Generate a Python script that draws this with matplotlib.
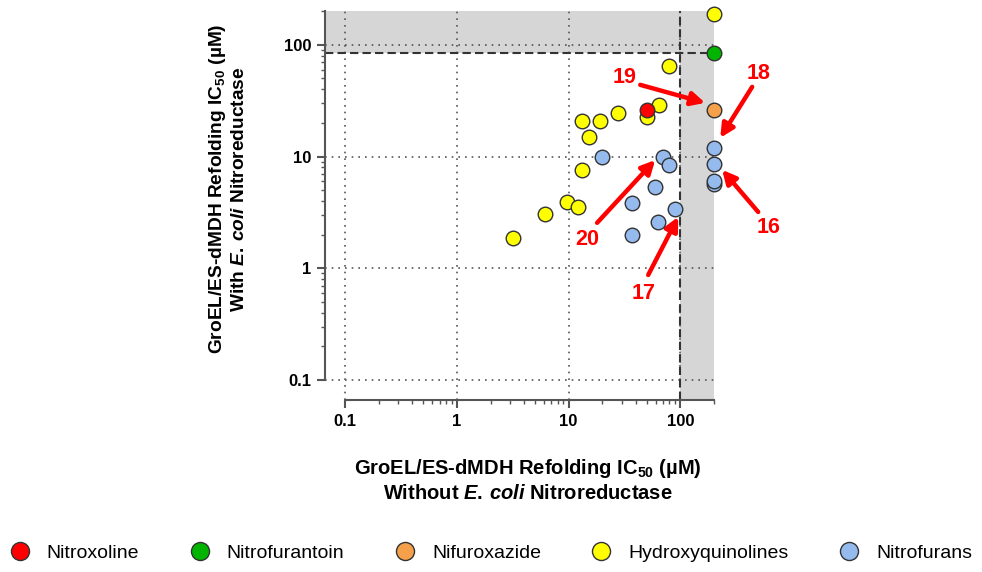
import matplotlib
matplotlib.use("Agg")
import matplotlib.pyplot as plt
from matplotlib.lines import Line2D
from matplotlib.ticker import FixedLocator, NullFormatter

plt.rcParams['font.family'] = ['Liberation Sans', 'DejaVu Sans']
plt.rcParams['mathtext.fontset'] = 'custom'
plt.rcParams['mathtext.rm'] = 'Liberation Sans:bold'
plt.rcParams['mathtext.it'] = 'Liberation Sans:italic:bold'
plt.rcParams['mathtext.bf'] = 'Liberation Sans:bold'

# data (IC50 in uM): without NTR (x) / with NTR (y)
hq_x = [200, 78.5, 50, 65, 13.2, 19.2, 27.5, 15.1, 13.2, 9.7, 12.1, 6.1, 3.2]
hq_y = [190, 65, 22.5, 28.8, 20.6, 20.6, 24.4, 14.9, 7.6, 3.95, 3.56, 3.05, 1.88]
nf_x = [20, 69.5, 78.5, 200, 200, 200, 200, 59.7, 36.9, 90, 62.7, 36.9]
nf_y = [10, 10, 8.4, 12, 8.55, 5.7, 6.0, 5.3, 3.87, 3.4, 2.59, 1.99]
nitroxoline = (50, 26)
nitrofurantoin = (200, 85)
nifuroxazide = (200, 26)

legend_names = ['Nitroxoline', 'Nitrofurantoin', 'Nifuroxazide', 'Hydroxyquinolines', 'Nitrofurans']
colors = ['#ff0000', '#00b400', '#f5a04a', '#ffff00', '#94baee']

# compound labels: text pos, arrow tail, arrow head
labels = ['19', '18', '16', '20', '17']
label_xy = [(32, 50.6), (498, 55), (612, 2.3), (14.7, 1.79), (46.5, 0.6)]
arrow_from = [(43.8, 43.8), (440, 42), (498, 3.19), (18, 2.55), (51.6, 0.87)]
arrow_to = [(167, 30.2), (228, 14.7), (237, 7.6), (59.6, 9.3), (95.8, 2.88)]

fig = plt.figure(figsize=(9.82, 5.72), dpi=100)
ax = fig.add_axes([0.331, 0.3005, 0.396, 0.680])
ax.set_xscale('log')
ax.set_yscale('log')
ax.set_xlim(0.066, 200)
ax.set_ylim(0.066, 200)

# shaded region + cutoffs
ax.axvspan(100, 200, color='#d6d6d6', zorder=0, lw=0)
ax.axhspan(85, 200, color='#d6d6d6', zorder=0, lw=0)
for v in [0.1, 1, 10, 100]:
    ax.axvline(v, color='#555555', ls=(0, (1, 3)), lw=1.2, zorder=1)
    ax.axhline(v, color='#555555', ls=(0, (1, 3)), lw=1.2, zorder=1)
ax.axvline(100, color='#333333', ls=(0, (4, 2)), lw=1.5, zorder=2)
ax.axhline(85, color='#333333', ls=(0, (4, 2)), lw=1.5, zorder=2)

ms = 110
ek = dict(edgecolors='#333333', linewidths=1.0, clip_on=False, zorder=4)
ax.scatter(hq_x, hq_y, s=ms, c=colors[3], **ek)
ax.scatter(nf_x, nf_y, s=ms, c=colors[4], **ek)
ax.scatter([nitroxoline[0]], [nitroxoline[1]], s=ms, c=colors[0], **ek)
ax.scatter([nitrofurantoin[0]], [nitrofurantoin[1]], s=ms, c=colors[1], **ek)
ax.scatter([nifuroxazide[0]], [nifuroxazide[1]], s=ms, c=colors[2], **ek)

for lab, t, a0, a1 in zip(labels, label_xy, arrow_from, arrow_to):
    ax.text(t[0], t[1], lab, color='#ff0000', fontsize=15.5, fontweight='bold',
            ha='center', va='center', clip_on=False)
    ax.annotate('', xy=a1, xytext=a0, annotation_clip=False,
                arrowprops=dict(arrowstyle='-|>', color='#ff0000', lw=3.2,
                                mutation_scale=20, shrinkA=0, shrinkB=0))

# axes styling (prism-like offset spines)
for s in ['top', 'right']:
    ax.spines[s].set_visible(False)
ax.spines['left'].set_bounds(0.1, 200)
ax.spines['bottom'].set_bounds(0.1, 200)
for s in ['left', 'bottom']:
    ax.spines[s].set_color('#555555')
    ax.spines[s].set_linewidth(1.5)
ax.set_xticks([0.1, 1, 10, 100])
ax.set_xticklabels(['0.1', '1', '10', '100'])
ax.set_yticks([0.1, 1, 10, 100])
ax.set_yticklabels(['0.1', '1', '10', '100'])
minors = [m * d for d in [0.1, 1, 10] for m in range(2, 10)] + [200]
ax.xaxis.set_minor_locator(FixedLocator(minors))
ax.yaxis.set_minor_locator(FixedLocator(minors))
ax.xaxis.set_minor_formatter(NullFormatter())
ax.yaxis.set_minor_formatter(NullFormatter())
ax.tick_params(which='major', length=6, width=1.5, color='#555555', labelsize=12, pad=4)
ax.tick_params(which='minor', length=3, width=1.0, color='#555555')
for t in ax.get_xticklabels() + ax.get_yticklabels():
    t.set_fontweight('bold')

ax.set_xlabel('GroEL/ES-dMDH Refolding IC$_{50}$ (µM)\nWithout $\\it{E.}\\,\\it{coli}$ Nitroreductase',
              fontsize=14.5, fontweight='bold', linespacing=1.25)
ax.set_ylabel('GroEL/ES-dMDH Refolding IC$_{50}$ (µM)\nWith $\\it{E.}\\,\\it{coli}$ Nitroreductase',
              fontsize=13.8, fontweight='bold', linespacing=1.25)
ax.xaxis.set_label_coords(0.522, -0.146)
ax.yaxis.set_label_coords(-0.197, 0.543)

handles = [Line2D([], [], marker='o', ls='', markersize=13, markerfacecolor=c,
                  markeredgecolor='#333333', markeredgewidth=1.0) for c in colors]
fig.legend(handles, legend_names, loc='center', bbox_to_anchor=(0.5, 1 - 553 / 572),
           ncol=5, frameon=False, fontsize=14, columnspacing=2.6, handlelength=1.0,
           handletextpad=0.9)

fig.savefig('out.png', dpi=100)
